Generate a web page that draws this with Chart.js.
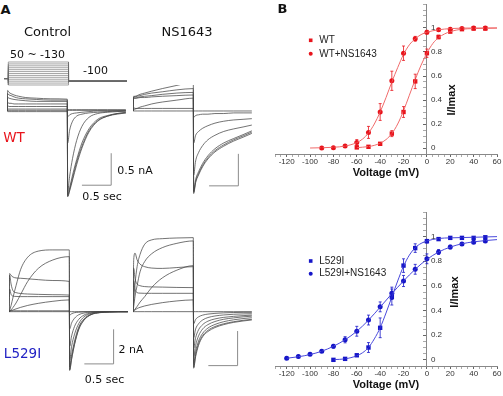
<!DOCTYPE html>
<html>
<head>
<meta charset="utf-8">
<script src="https://cdn.jsdelivr.net/npm/chart.js@4.4.1/dist/chart.umd.min.js"></script>
<style>
  body { margin: 0; background: #fff; }
  #fig { position: relative; width: 503px; height: 396px; overflow: hidden; font-family: "DejaVu Sans", sans-serif; color: #111; }
  #fig canvas { position: absolute; }
  .t { position: absolute; transform: translate(-50%, -50%); white-space: nowrap; line-height: 1; }
</style>
</head>
<body>
<div id="fig">
  <canvas id="protocol" width="123" height="27" style="left:4px;top:60px"></canvas>
  <canvas id="wtControl" width="120" height="115" style="left:7px;top:85px"></canvas>
  <canvas id="wtNs" width="120" height="115" style="left:133px;top:85px"></canvas>
  <canvas id="l529iControl" width="120" height="142" style="left:9px;top:234px"></canvas>
  <canvas id="l529iNs" width="120" height="142" style="left:133px;top:234px"></canvas>
  <canvas id="ivWt" width="238" height="178" style="left:265px;top:0px"></canvas>
  <canvas id="ivL529i" width="238" height="182" style="left:265px;top:208px"></canvas>

  <div class="t" style="left:5.5px;top:8.5px;font-size:13px;font-weight:bold">A</div>
  <div class="t" style="left:282.5px;top:7.5px;font-size:13px;font-weight:bold">B</div>
  <div class="t" style="left:47.5px;top:31px;font-size:13px">Control</div>
  <div class="t" style="left:187px;top:31px;font-size:13px">NS1643</div>
  <div class="t" style="left:37.5px;top:53.5px;font-size:11px">50 ~ -130</div>
  <div class="t" style="left:95.5px;top:70px;font-size:11px">-100</div>
  <div class="t" style="left:14px;top:138px;font-size:13.5px;color:#e8141c">WT</div>
  <div class="t" style="left:135px;top:170px;font-size:11px">0.5 nA</div>
  <div class="t" style="left:102px;top:196px;font-size:11px">0.5 sec</div>
  <div class="t" style="left:22.5px;top:354px;font-size:13.5px;color:#2222c4">L529I</div>
  <div class="t" style="left:131px;top:348.5px;font-size:11px">2 nA</div>
  <div class="t" style="left:104.5px;top:378.5px;font-size:11px">0.5 sec</div>
</div>
<script>
// ---------- panel A : voltage protocol (mV) ----------
var stepLevels = [50, 35, 20, 5, -10, -25, -40, -55, -70, -85, -100, -115, -130];
var holdingLevel = -80;
var tailLevel = -100;
var protocolTime = [-0.07, 0, 0, 1.03, 1.03, 2.03];

// ---------- panel A : current sweeps (nA) on a common time base (s) ----------
var sweepTime = [0, 0.012, 0.035, 0.07, 0.12, 0.2, 0.32, 0.5, 0.75, 1.03,
                 1.036, 1.07, 1.12, 1.19, 1.28, 1.4, 1.55, 1.72, 1.88, 2.03];

var wtControlSweeps = [
  [0, 0.32, 0.29, 0.27, 0.25, 0.23, 0.21, 0.2, 0.19, 0.185, -1.34, -1.25, -1.08, -0.84, -0.58, -0.33, -0.16, -0.08, -0.05, -0.03],
  [0, 0.27, 0.25, 0.24, 0.22, 0.2, 0.19, 0.18, 0.17, 0.17, -1.33, -1.23, -1.05, -0.8, -0.55, -0.31, -0.15, -0.08, -0.04, -0.03],
  [0, 0.21, 0.2, 0.19, 0.18, 0.17, 0.16, 0.15, 0.15, 0.15, -1.31, -1.2, -1.0, -0.76, -0.5, -0.28, -0.13, -0.07, -0.04, -0.02],
  [0, 0.13, 0.12, 0.12, 0.11, 0.11, 0.11, 0.11, 0.11, 0.11, -1.26, -1.02, -0.74, -0.46, -0.24, -0.1, -0.04, -0.02, -0.01, 0],
  [0, 0.08, 0.07, 0.07, 0.07, 0.07, 0.07, 0.07, 0.07, 0.07, -0.5, -0.3, -0.16, -0.08, -0.05, -0.03, -0.02, -0.01, 0, 0],
  [0, 0.03, 0.03, 0.03, 0.03, 0.03, 0.03, 0.03, 0.03, 0.03, -0.09, -0.06, -0.04, -0.03, -0.02, -0.01, 0, 0, 0, 0],
  [0, 0.01, 0.01, 0.01, 0.01, 0.01, 0.01, 0.01, 0.01, 0.01, 0.01, 0.01, 0.01, 0.01, 0.01, 0.01, 0.01, 0.01, 0.01, 0.01],
  [0, -0.01, -0.01, -0.01, -0.01, -0.01, -0.01, -0.01, -0.01, -0.01, 0.02, 0.02, 0.02, 0.02, 0.02, 0.02, 0.02, 0.02, 0.02, 0.02]
];
var wtNs1643Sweeps = [
  [0, 0.22, 0.23, 0.24, 0.26, 0.28, 0.31, 0.35, 0.4, 0.45, -1.29, -1.12, -1.0, -0.87, -0.75, -0.64, -0.55, -0.47, -0.41, -0.35],
  [0, 0.23, 0.22, 0.23, 0.24, 0.26, 0.28, 0.3, 0.33, 0.35, -1.27, -1.1, -0.98, -0.85, -0.73, -0.62, -0.53, -0.45, -0.39, -0.33],
  [0, 0.21, 0.2, 0.21, 0.22, 0.23, 0.24, 0.26, 0.28, 0.29, -1.25, -1.07, -0.95, -0.82, -0.7, -0.59, -0.5, -0.43, -0.37, -0.31],
  [0, 0.2, 0.2, 0.2, 0.21, 0.21, 0.22, 0.23, 0.24, 0.25, -1.0, -0.78, -0.65, -0.54, -0.45, -0.38, -0.32, -0.28, -0.25, -0.22],
  [0, 0.02, 0.03, 0.04, 0.06, 0.08, 0.11, 0.14, 0.17, 0.2, -0.5, -0.38, -0.32, -0.27, -0.23, -0.19, -0.16, -0.14, -0.13, -0.12],
  [0, 0.05, 0.04, 0.04, 0.04, 0.04, 0.04, 0.04, 0.04, 0.04, -0.1, -0.07, -0.06, -0.05, -0.05, -0.04, -0.04, -0.03, -0.03, -0.03],
  [0, 0, 0, 0, 0, 0, 0, 0, 0, 0, 0, 0, 0, 0, 0, 0, 0, 0, 0, 0]
];
var l529iControlSweeps = [
  [0, 0.1, 0.35, 0.85, 1.5, 2.45, 3.15, 3.5, 3.57, 3.57, -3.4, -2.75, -1.9, -1.05, -0.5, -0.18, -0.06, -0.02, 0, 0],
  [0, 0.03, 0.1, 0.25, 0.5, 1.0, 1.75, 2.5, 2.99, 3.18, -3.35, -2.7, -1.85, -1.0, -0.48, -0.17, -0.05, -0.02, 0, 0],
  [0, 2.2, 2.1, 2.0, 1.95, 1.93, 1.9, 1.85, 1.8, 1.75, -3.2, -2.5, -1.7, -0.9, -0.42, -0.15, -0.05, -0.01, 0, 0],
  [0, 2.1, 1.6, 1.2, 1.1, 1.05, 1.02, 1.0, 0.98, 0.96, -2.8, -2.0, -1.3, -0.7, -0.3, -0.1, -0.03, 0, 0, 0],
  [0, 1.3, 1.0, 0.9, 0.88, 0.87, 0.87, 0.87, 0.87, 0.87, -2.0, -1.4, -0.85, -0.45, -0.2, -0.07, -0.02, 0, 0, 0],
  [0, 0.02, 0.05, 0.1, 0.16, 0.25, 0.36, 0.48, 0.6, 0.68, -1.0, -0.65, -0.38, -0.18, -0.08, -0.03, 0, 0, 0, 0],
  [0, 0.05, 0.05, 0.05, 0.05, 0.05, 0.05, 0.05, 0.05, 0.05, -0.2, -0.12, -0.06, -0.03, -0.01, 0, 0, 0, 0, 0],
  [0, 0, 0, 0, 0, 0, 0, 0, 0, 0, 0, 0, 0, 0, 0, 0, 0, 0, 0, 0]
];
var l529iNs1643Sweeps = [
  [0, 0.6, 1.6, 2.6, 3.3, 3.9, 4.15, 4.22, 4.26, 4.28, -3.27, -2.6, -1.95, -1.45, -1.15, -0.92, -0.75, -0.62, -0.54, -0.48],
  [0, 0.3, 0.9, 1.5, 2.3, 2.9, 3.35, 3.7, 3.95, 4.09, -3.2, -2.5, -1.85, -1.38, -1.08, -0.86, -0.7, -0.58, -0.5, -0.44],
  [0, 3.0, 3.38, 3.0, 2.75, 2.6, 2.52, 2.5, 2.55, 2.6, -3.0, -2.3, -1.7, -1.25, -0.95, -0.74, -0.58, -0.47, -0.4, -0.35],
  [0, 0.05, 0.15, 0.3, 0.55, 0.87, 1.4, 1.95, 2.4, 2.66, -2.6, -1.95, -1.4, -1.0, -0.75, -0.57, -0.44, -0.36, -0.3, -0.26],
  [0, 2.5, 1.9, 1.6, 1.5, 1.45, 1.43, 1.42, 1.4, 1.39, -2.1, -1.5, -1.05, -0.75, -0.55, -0.42, -0.33, -0.27, -0.23, -0.2],
  [0, 1.8, 1.3, 1.1, 1.07, 1.06, 1.06, 1.06, 1.06, 1.06, -1.5, -1.0, -0.7, -0.48, -0.34, -0.25, -0.19, -0.15, -0.13, -0.12],
  [0, 0.05, 0.1, 0.18, 0.25, 0.33, 0.42, 0.52, 0.62, 0.68, -0.7, -0.45, -0.3, -0.2, -0.14, -0.1, -0.07, -0.05, -0.04, -0.04],
  [0, 0, 0, 0, 0, 0, 0, 0, 0, 0, 0, 0, 0, 0, 0, 0, 0, 0, 0, 0]
];

// scale bars: 0.5 s, 0.5 nA (WT) and 2 nA (L529I)
var barSeconds = 0.5;
var barWtNa = 0.5;
var barL529iNa = 2;

// ---------- panel B : normalised current vs voltage ----------
var xLabelValues = [-120, -100, -80, -60, -40, -20, 0, 20, 40, 60];
var yLabelValues = [0, 0.2, 0.4, 0.6, 0.8, 1];

var wtVolts = [-60, -50, -40, -30, -20, -10, 0, 10, 20, 30, 40, 50];
var wtValues = [0.005, 0.01, 0.035, 0.12, 0.3, 0.555, 0.79, 0.925, 0.97, 0.99, 0.995, 0.995];
var wtErrors = [0.01, 0.01, 0.01, 0.025, 0.045, 0.06, 0.035, 0.015, 0.01, 0.005, 0.005, 0.005];
var wtFitVolts = [-60, -50, -45, -40, -35, -30, -25, -20, -15, -10, -5, 0, 5, 10, 15, 20, 30, 40, 60];
var wtFitValues = [0.003, 0.012, 0.022, 0.04, 0.07, 0.12, 0.2, 0.31, 0.44, 0.57, 0.69, 0.79, 0.87, 0.92, 0.95, 0.97, 0.99, 0.995, 1.0];

var wtNsVolts = [-90, -80, -70, -60, -50, -40, -30, -20, -10, 0, 10, 20, 30, 40, 50];
var wtNsValues = [0, 0.002, 0.016, 0.045, 0.13, 0.3, 0.56, 0.79, 0.91, 0.965, 0.985, 0.99, 0.995, 1.0, 1.0];
var wtNsErrors = [0.005, 0.005, 0.01, 0.025, 0.05, 0.07, 0.08, 0.06, 0.02, 0.015, 0.01, 0.01, 0.005, 0.005, 0.005];
var wtNsFitVolts = [-100, -90, -80, -70, -60, -55, -50, -45, -40, -35, -30, -25, -20, -15, -10, -5, 0, 10, 20, 40, 60];
var wtNsFitValues = [0, 0.002, 0.006, 0.016, 0.045, 0.075, 0.125, 0.2, 0.3, 0.42, 0.55, 0.67, 0.78, 0.86, 0.91, 0.945, 0.965, 0.985, 0.995, 1.0, 1.0];

var l529iVolts = [-80, -70, -60, -50, -40, -30, -20, -10, 0, 10, 20, 30, 40, 50];
var l529iValues = [0, 0.008, 0.037, 0.1, 0.26, 0.51, 0.765, 0.907, 0.963, 0.98, 0.99, 0.99, 0.99, 0.995];
var l529iErrors = [0.005, 0.005, 0.01, 0.04, 0.08, 0.065, 0.055, 0.035, 0.015, 0.01, 0.005, 0.005, 0.005, 0.005];
var l529iFitVolts = [-80, -70, -60, -55, -50, -45, -40, -35, -30, -25, -20, -15, -10, -5, 0, 10, 20, 40, 60];
var l529iFitValues = [0.002, 0.008, 0.033, 0.058, 0.1, 0.17, 0.26, 0.38, 0.51, 0.64, 0.76, 0.85, 0.91, 0.945, 0.965, 0.985, 0.99, 0.995, 1.0];

var l529iNsVolts = [-120, -110, -100, -90, -80, -70, -60, -50, -40, -30, -20, -10, 0, 10, 20, 30, 40, 50];
var l529iNsValues = [0.013, 0.027, 0.045, 0.07, 0.11, 0.163, 0.232, 0.323, 0.43, 0.54, 0.64, 0.735, 0.82, 0.875, 0.915, 0.94, 0.955, 0.965];
var l529iNsErrors = [0.01, 0.01, 0.01, 0.01, 0.015, 0.025, 0.04, 0.04, 0.04, 0.05, 0.045, 0.04, 0.04, 0.02, 0.015, 0.01, 0.01, 0.01];
var l529iNsFitVolts = [-120, -110, -100, -90, -80, -70, -60, -50, -40, -30, -20, -10, 0, 10, 20, 30, 40, 50, 60];
var l529iNsFitValues = [0.013, 0.025, 0.043, 0.07, 0.11, 0.163, 0.232, 0.322, 0.428, 0.537, 0.64, 0.735, 0.815, 0.875, 0.915, 0.942, 0.958, 0.968, 0.976];

var SANS = '"Liberation Sans", Arial, sans-serif';

function pairs(xs, ys) {
    return xs.map(function(x, i) { return {x: x, y: ys[i]}; });
}

function hiddenScales(xMin, xMax, yMin, yMax) {
    return {
        x: {type: 'linear', display: false, min: xMin, max: xMax},
        y: {type: 'linear', display: false, min: yMin, max: yMax}
    };
}

var baseOptions = {
    responsive: false,
    animation: false,
    devicePixelRatio: 1,
    events: []
};

// voltage protocol: one sweep per step level
new Chart(document.getElementById('protocol'), {
    type: 'line',
    data: {
        datasets: stepLevels.map(function(v) {
            return {
                data: pairs(protocolTime, [holdingLevel, holdingLevel, v, v, tailLevel, tailLevel]),
                borderColor: '#6a6a6a', borderWidth: 0.6, pointRadius: 0, tension: 0
            };
        })
    },
    options: Object.assign({}, baseOptions, {
        plugins: {legend: {display: false}, tooltip: {enabled: false}},
        scales: hiddenScales(-0.0735, 2.03, -145.7, 65.6)
    })
});

function traceChart(id, sweeps, barOrigin, barNa, yMin, yMax) {
    var datasets = sweeps.map(function(s) {
        return {
            data: pairs(sweepTime, s),
            borderColor: '#444', borderWidth: 0.75, pointRadius: 0,
            cubicInterpolationMode: 'monotone'
        };
    });
    // L-shaped scale bar
    datasets.push({
        data: [
            {x: barOrigin[0], y: barOrigin[1]},
            {x: barOrigin[0] + barSeconds, y: barOrigin[1]},
            {x: barOrigin[0] + barSeconds, y: barOrigin[1] + barNa}
        ],
        borderColor: '#8c8c8c', borderWidth: 1, pointRadius: 0, tension: 0
    });
    new Chart(document.getElementById(id), {
        type: 'line',
        data: {datasets: datasets},
        options: Object.assign({}, baseOptions, {
            plugins: {legend: {display: false}, tooltip: {enabled: false}},
            scales: hiddenScales(0, 2.05, yMin, yMax)
        })
    });
}

traceChart('wtControl', wtControlSweeps, [1.28, -1.16], barWtNa, -1.391, 0.406);
traceChart('wtNs', wtNs1643Sweeps, [1.30, -1.17], barWtNa, -1.391, 0.406);
traceChart('l529iControl', l529iControlSweeps, [1.287, -3.02], barL529iNa, -3.72, 4.49);
traceChart('l529iNs', l529iNs1643Sweeps, [1.287, -3.12], barL529iNa, -3.72, 4.49);

// error bars, y labels right of the axis, rotated y title and the inset legend
var ivExtras = {
    id: 'ivExtras',
    afterDatasetsDraw: function(chart, args, opts) {
        var ctx = chart.ctx, area = chart.chartArea;
        var x = chart.scales.x, y = chart.scales.y;
        var x0 = x.getPixelForValue(0);
        ctx.save();
        chart.data.datasets.forEach(function(ds) {
            if (!ds.errors) return;
            ctx.strokeStyle = ds.borderColor;
            ctx.lineWidth = 0.8;
            ds.data.forEach(function(p, i) {
                var e = ds.errors[i];
                var px = x.getPixelForValue(p.x);
                var top = y.getPixelForValue(p.y + e), bot = y.getPixelForValue(p.y - e);
                ctx.beginPath();
                ctx.moveTo(px, top); ctx.lineTo(px, bot);
                ctx.moveTo(px - 1.5, top); ctx.lineTo(px + 1.5, top);
                ctx.moveTo(px - 1.5, bot); ctx.lineTo(px + 1.5, bot);
                ctx.stroke();
            });
        });

        ctx.fillStyle = '#333';
        ctx.font = '8px ' + SANS;
        ctx.textAlign = 'left';
        ctx.textBaseline = 'middle';
        yLabelValues.forEach(function(v) {
            ctx.fillText(String(v), x0 + 4, y.getPixelForValue(v));
        });

        ctx.save();
        ctx.translate(x0 + opts.titleOffset, y.getPixelForValue(opts.titleValue));
        ctx.rotate(-Math.PI / 2);
        ctx.font = 'bold 11px ' + SANS;
        ctx.fillStyle = '#111';
        ctx.textAlign = 'center';
        ctx.fillText('I/Imax', 0, 0);
        ctx.restore();

        var row = 0;
        chart.data.datasets.forEach(function(ds) {
            if (!ds.label) return;
            var lx = area.left + opts.legendX;
            var ly = area.top + opts.legendY + row * opts.legendGap;
            ctx.fillStyle = ds.backgroundColor;
            if (ds.pointStyle === 'rect') {
                ctx.fillRect(lx - 1.8, ly - 1.8, 3.6, 3.6);
            } else {
                ctx.beginPath();
                ctx.arc(lx, ly, 2, 0, Math.PI * 2);
                ctx.fill();
            }
            ctx.fillStyle = '#222';
            ctx.font = '10px ' + SANS;
            ctx.textAlign = 'left';
            ctx.fillText(ds.label, lx + 8.5, ly);
            row++;
        });
        ctx.restore();
    }
};

function isLabelValue(list, v) {
    return list.some(function(l) { return Math.abs(l - v) < 1e-6; });
}

function ivChart(id, series, extras) {
    var datasets = [];
    series.forEach(function(s) {
        datasets.push({
            data: pairs(s.fitVolts, s.fitValues), showLine: true, pointRadius: 0,
            borderColor: s.lineColor, borderWidth: 1, cubicInterpolationMode: 'monotone'
        });
    });
    series.forEach(function(s) {
        datasets.push({
            label: s.label, data: pairs(s.volts, s.values), errors: s.errors, showLine: false,
            pointStyle: s.pointStyle, pointRadius: s.pointStyle === 'rect' ? 3.1 : 2.5,
            backgroundColor: s.color, borderColor: s.color, borderWidth: 0
        });
    });
    new Chart(document.getElementById(id), {
        type: 'scatter',
        data: {datasets: datasets},
        plugins: [ivExtras],
        options: Object.assign({}, baseOptions, {
            layout: {padding: {left: 10, right: 6, top: 3, bottom: 0}},
            plugins: {legend: {display: false}, tooltip: {enabled: false}, ivExtras: extras},
            scales: {
                x: {
                    type: 'linear', min: -130, max: 60,
                    ticks: {
                        stepSize: 5, autoSkip: false, maxRotation: 0, minRotation: 0, padding: 1,
                        color: '#333', font: {family: SANS, size: 8, lineHeight: 1},
                        callback: function(v) { return isLabelValue(xLabelValues, v) ? String(Math.round(v)) : ''; }
                    },
                    grid: {
                        drawOnChartArea: false, drawTicks: true, tickLength: 3,
                        tickColor: function(c) { return c.tick && isLabelValue(xLabelValues, c.tick.value) ? '#666' : '#aaa'; }
                    },
                    border: {color: '#888', width: 1},
                    title: {display: true, text: 'Voltage (mV)', color: '#111', padding: 0,
                            font: {family: SANS, size: 11, weight: 'bold', lineHeight: 1}}
                },
                y: {
                    type: 'linear', min: -0.05, max: 1.2, position: {x: 0},
                    ticks: {display: false, stepSize: 0.05},
                    grid: {
                        drawOnChartArea: false, drawTicks: true, tickLength: 3,
                        tickColor: function(c) { return c.tick && isLabelValue(yLabelValues, c.tick.value) ? '#666' : '#aaa'; }
                    },
                    border: {color: '#888', width: 1},
                    afterFit: function(s) { s.width = 0; }
                }
            }
        })
    });
}

ivChart('ivWt', [
    {label: 'WT', volts: wtVolts, values: wtValues, errors: wtErrors, fitVolts: wtFitVolts, fitValues: wtFitValues,
     pointStyle: 'rect', color: '#e8141c', lineColor: '#f06a6a'},
    {label: 'WT+NS1643', volts: wtNsVolts, values: wtNsValues, errors: wtNsErrors, fitVolts: wtNsFitVolts, fitValues: wtNsFitValues,
     pointStyle: 'circle', color: '#e8141c', lineColor: '#f06a6a'}
], {legendX: 35.7, legendY: 36.3, legendGap: 13.5, titleValue: 0.4, titleOffset: 25});

ivChart('ivL529i', [
    {label: 'L529I', volts: l529iVolts, values: l529iValues, errors: l529iErrors, fitVolts: l529iFitVolts, fitValues: l529iFitValues,
     pointStyle: 'rect', color: '#1616c8', lineColor: '#4848dc'},
    {label: 'L529I+NS1643', volts: l529iNsVolts, values: l529iNsValues, errors: l529iNsErrors, fitVolts: l529iNsFitVolts, fitValues: l529iNsFitValues,
     pointStyle: 'circle', color: '#1616c8', lineColor: '#4848dc'}
], {legendX: 35.7, legendY: 49, legendGap: 12.7, titleValue: 0.55, titleOffset: 28.5});
</script>
</body>
</html>
